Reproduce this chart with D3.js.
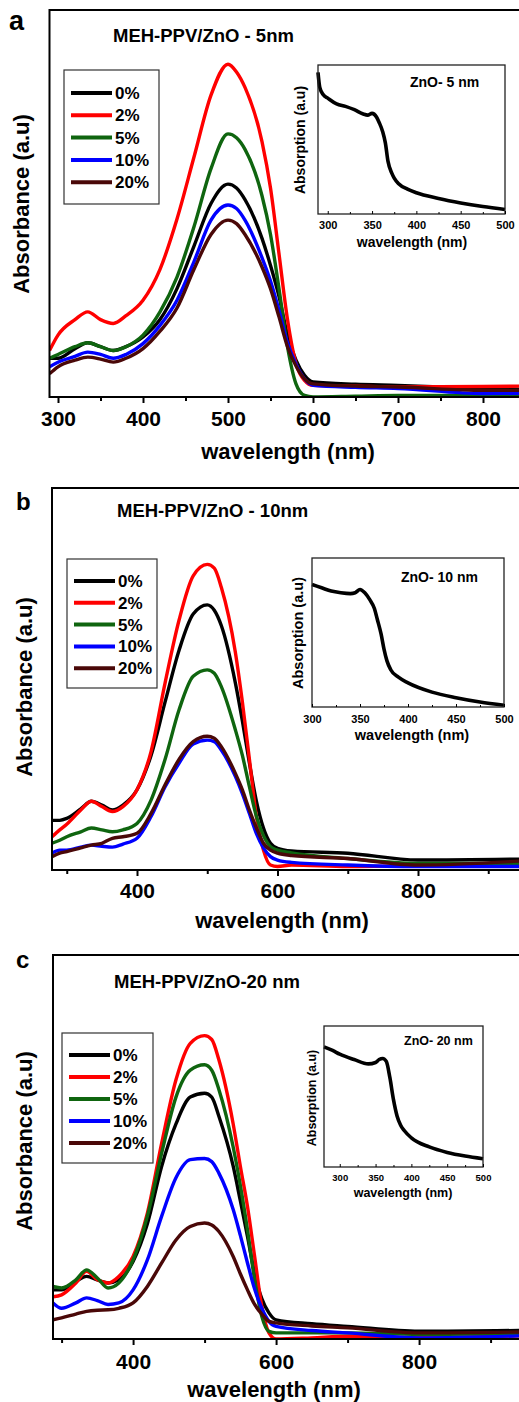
<!DOCTYPE html>
<html>
<head>
<meta charset="utf-8">
<script src="https://cdn.jsdelivr.net/npm/d3@7"></script>
<style>
  body { margin: 0; background: #fff; }
  svg text { font-family: "Liberation Sans", Arial, Helvetica, sans-serif; font-weight: bold; fill: #000; }
</style>
</head>
<body>
<svg id="fig" width="519" height="1402"></svg>
<script>
// ---- data (absorbance in arbitrary units 0..1) ----
const seriesNames = ["0%", "2%", "5%", "10%", "20%"];
const seriesColors = ["#000000", "#ff0000", "#0f650f", "#0000ff", "#4a0808"];

// panel a: MEH-PPV/ZnO - 5nm
const wlA = [290, 300, 320, 335, 350, 365, 380, 400, 420, 440, 460, 480, 500, 510, 520, 540, 550, 560, 570, 580, 590, 600, 650, 700, 800, 900];
const a0 = [0.10, 0.10, 0.125, 0.14, 0.13, 0.12, 0.13, 0.155, 0.20, 0.28, 0.39, 0.50, 0.55, 0.54, 0.51, 0.41, 0.34, 0.26, 0.16, 0.095, 0.056, 0.039, 0.033, 0.030, 0.022, 0.017];
const a2 = [0.12, 0.16, 0.20, 0.22, 0.20, 0.19, 0.21, 0.25, 0.33, 0.46, 0.62, 0.78, 0.86, 0.84, 0.80, 0.66, 0.54, 0.37, 0.20, 0.086, 0.043, 0.030, 0.028, 0.026, 0.027, 0.030];
const a5 = [0.10, 0.11, 0.13, 0.14, 0.13, 0.12, 0.13, 0.16, 0.22, 0.31, 0.44, 0.59, 0.68, 0.67, 0.64, 0.52, 0.42, 0.28, 0.13, 0.034, 0.004, 0.0, 0.002, 0.004, 0.004, 0.005];
const a10 = [0.078, 0.09, 0.105, 0.116, 0.11, 0.10, 0.11, 0.138, 0.185, 0.25, 0.35, 0.457, 0.496, 0.487, 0.457, 0.36, 0.30, 0.224, 0.14, 0.085, 0.047, 0.030, 0.025, 0.022, 0.009, 0.010];
const a20 = [0.06, 0.078, 0.095, 0.103, 0.098, 0.09, 0.10, 0.125, 0.17, 0.23, 0.33, 0.42, 0.457, 0.448, 0.42, 0.336, 0.28, 0.207, 0.13, 0.08, 0.047, 0.034, 0.028, 0.026, 0.017, 0.018];

// panel b: MEH-PPV/ZnO - 10nm
const wlB = [279, 290, 300, 320, 335, 350, 365, 380, 400, 420, 440, 460, 480, 500, 510, 520, 540, 550, 560, 570, 580, 590, 600, 620, 700, 800, 1000];
const b0 = [0.13, 0.13, 0.135, 0.16, 0.18, 0.17, 0.157, 0.17, 0.21, 0.30, 0.44, 0.576, 0.67, 0.694, 0.68, 0.64, 0.49, 0.39, 0.28, 0.18, 0.11, 0.07, 0.057, 0.05, 0.044, 0.026, 0.03];
const b2 = [0.087, 0.105, 0.12, 0.157, 0.18, 0.166, 0.153, 0.166, 0.21, 0.31, 0.49, 0.655, 0.77, 0.80, 0.79, 0.74, 0.57, 0.44, 0.29, 0.14, 0.052, 0.013, 0.009, 0.013, 0.009, 0.012, 0.02];
const b5 = [0.07, 0.078, 0.087, 0.10, 0.11, 0.105, 0.10, 0.105, 0.122, 0.183, 0.29, 0.42, 0.507, 0.524, 0.515, 0.48, 0.367, 0.30, 0.218, 0.14, 0.09, 0.061, 0.052, 0.045, 0.03, 0.017, 0.017];
const b10 = [0.044, 0.052, 0.052, 0.06, 0.065, 0.062, 0.06, 0.068, 0.083, 0.14, 0.218, 0.28, 0.33, 0.34, 0.336, 0.314, 0.245, 0.20, 0.148, 0.095, 0.058, 0.035, 0.026, 0.02, 0.013, 0.009, 0.009];
const b20 = [0.035, 0.044, 0.048, 0.058, 0.065, 0.07, 0.083, 0.087, 0.096, 0.148, 0.223, 0.29, 0.336, 0.35, 0.345, 0.323, 0.253, 0.21, 0.157, 0.11, 0.07, 0.052, 0.044, 0.038, 0.03, 0.013, 0.03];

// panel c: MEH-PPV/ZnO-20 nm
const wlC = [288, 300, 320, 335, 350, 365, 380, 400, 420, 440, 460, 480, 500, 510, 520, 540, 550, 560, 570, 580, 590, 600, 650, 700, 800, 1000];
const c0 = [0.128, 0.128, 0.15, 0.163, 0.154, 0.146, 0.154, 0.202, 0.30, 0.45, 0.56, 0.63, 0.64, 0.63, 0.58, 0.45, 0.36, 0.267, 0.17, 0.105, 0.068, 0.05, 0.04, 0.033, 0.02, 0.024];
const c2 = [0.11, 0.115, 0.146, 0.176, 0.154, 0.146, 0.163, 0.215, 0.328, 0.51, 0.675, 0.77, 0.79, 0.78, 0.727, 0.56, 0.45, 0.345, 0.215, 0.085, 0.016, 0.0, 0.003, 0.007, 0.004, 0.011];
const c5 = [0.137, 0.133, 0.154, 0.18, 0.159, 0.133, 0.146, 0.206, 0.32, 0.484, 0.63, 0.70, 0.714, 0.70, 0.65, 0.50, 0.40, 0.284, 0.154, 0.059, 0.02, 0.016, 0.016, 0.016, 0.012, 0.016];
const c10 = [0.094, 0.08, 0.094, 0.107, 0.10, 0.09, 0.094, 0.128, 0.206, 0.32, 0.42, 0.467, 0.47, 0.462, 0.432, 0.337, 0.27, 0.198, 0.13, 0.08, 0.046, 0.033, 0.022, 0.016, 0.003, 0.012];
const c20 = [0.05, 0.055, 0.065, 0.072, 0.075, 0.076, 0.08, 0.094, 0.137, 0.198, 0.258, 0.293, 0.302, 0.297, 0.28, 0.215, 0.17, 0.128, 0.09, 0.065, 0.046, 0.042, 0.034, 0.029, 0.016, 0.02];

// insets: ZnO absorption
const insetWlA = [289, 291, 295, 300, 310, 320, 330, 340, 345, 350, 355, 358, 362, 365, 368, 372, 375, 380, 390, 400, 425, 450, 475, 500];
const insetA = [0.855, 0.765, 0.72, 0.70, 0.665, 0.65, 0.63, 0.604, 0.597, 0.608, 0.586, 0.553, 0.497, 0.43, 0.318, 0.25, 0.217, 0.183, 0.15, 0.128, 0.094, 0.067, 0.045, 0.027];
const insetWlB = [300, 310, 320, 330, 340, 345, 350, 355, 360, 365, 368, 372, 375, 378, 382, 390, 400, 425, 450, 475, 500];
const insetB = [0.74, 0.72, 0.70, 0.69, 0.685, 0.69, 0.71, 0.69, 0.65, 0.595, 0.53, 0.44, 0.35, 0.28, 0.225, 0.18, 0.146, 0.09, 0.056, 0.03, 0.011];
const insetWlC = [278, 290, 300, 320, 340, 350, 355, 360, 365, 370, 375, 380, 385, 390, 400, 425, 450, 475, 500];
const insetC = [0.767, 0.744, 0.72, 0.686, 0.658, 0.667, 0.686, 0.693, 0.674, 0.57, 0.43, 0.326, 0.267, 0.233, 0.186, 0.128, 0.093, 0.07, 0.053];

const svg = d3.select("#fig");

function drawPanel(p) {
    const g = svg.append("g");
    const x = d3.scaleLinear()
        .domain(p.xDomain)
        .range([p.left, p.left + (p.xDomain[1] - p.xDomain[0]) * p.pxPerNm]);
    const y = d3.scaleLinear().domain([0, 1]).range([p.bottom, p.top]);

    const clipId = "clip-" + p.id;
    g.append("clipPath").attr("id", clipId)
        .append("rect")
        .attr("x", x.range()[0]).attr("y", p.top)
        .attr("width", x.range()[1] - x.range()[0]).attr("height", p.bottom - p.top);

    const line = d3.line()
        .x((d, i) => x(p.wl[i]))
        .y(d => y(d))
        .curve(d3.curveMonotoneX);

    g.append("g").attr("clip-path", `url(#${clipId})`)
        .selectAll("path")
        .data(p.series)
        .join("path")
        .attr("d", line)
        .attr("fill", "none")
        .attr("stroke", (d, i) => seriesColors[i])
        .attr("stroke-width", 3.4)
        .attr("stroke-linejoin", "round");

    // frame
    g.append("rect")
        .attr("x", x.range()[0]).attr("y", p.top)
        .attr("width", x.range()[1] - x.range()[0]).attr("height", p.bottom - p.top)
        .attr("fill", "none").attr("stroke", "#000").attr("stroke-width", 2);

    // bottom axis: minor ticks, then labelled major ticks
    const minorAxis = d3.axisBottom(x).tickValues(p.minorTicks).tickSize(4).tickFormat("");
    const majorAxis = d3.axisBottom(x).tickValues(p.majorTicks).tickSize(6)
        .tickPadding(p.tickPad).tickFormat(d3.format("d"));
    [minorAxis, majorAxis].forEach(ax => {
        const a = g.append("g").attr("transform", `translate(0,${p.bottom})`).call(ax);
        a.select(".domain").remove();
        a.selectAll(".tick line").attr("stroke", "#000").attr("stroke-width", 2);
        a.selectAll(".tick text").style("font-size", "21px").attr("font-family", null);
    });

    g.append("text")
        .attr("x", p.xLabelX).attr("y", p.xLabelY)
        .attr("text-anchor", "middle").style("font-size", "22px")
        .text("wavelength (nm)");
    g.append("text")
        .attr("transform", `translate(${p.yLabelX},${p.yLabelY}) rotate(-90)`)
        .attr("text-anchor", "middle").style("font-size", "22px")
        .text("Absorbance (a.u)");

    g.append("text").attr("x", p.letterX).attr("y", p.letterY)
        .style("font-size", p.letterSize + "px").text(p.letter);
    g.append("text").attr("x", p.titleX).attr("y", p.titleY)
        .style("font-size", "18.5px").text(p.title);

    // legend
    const lg = g.append("g");
    lg.append("rect")
        .attr("x", p.legend.x).attr("y", p.legend.y)
        .attr("width", p.legend.w).attr("height", p.legend.h)
        .attr("fill", "#fff").attr("stroke", "#333").attr("stroke-width", 1.2);
    seriesNames.forEach((name, i) => {
        const yy = p.legend.y + p.legend.first + i * p.legend.step;
        lg.append("line")
            .attr("x1", p.legend.x + 7).attr("x2", p.legend.x + 48)
            .attr("y1", yy).attr("y2", yy)
            .attr("stroke", seriesColors[i]).attr("stroke-width", 4);
        lg.append("text")
            .attr("x", p.legend.x + 51).attr("y", yy + 6)
            .style("font-size", "17px").text(name);
    });

    drawInset(g, p.inset);
}

function drawInset(g, q) {
    const x = d3.scaleLinear().domain(q.xDomain).range([q.x0, q.x1]);
    const y = d3.scaleLinear().domain([0, 0.9]).range([q.y1, q.y0]);
    const ig = g.append("g");

    ig.append("path")
        .datum(q.values)
        .attr("d", d3.line().x((d, i) => x(q.wl[i])).y(d => y(d)).curve(d3.curveMonotoneX))
        .attr("fill", "none").attr("stroke", "#000")
        .attr("stroke-width", 3.6).attr("stroke-linejoin", "round");

    ig.append("rect")
        .attr("x", q.x0).attr("y", q.y0)
        .attr("width", q.x1 - q.x0).attr("height", q.y1 - q.y0)
        .attr("fill", "none").attr("stroke", "#222").attr("stroke-width", 1.3);

    const minor = d3.axisBottom(x).tickValues([325, 375, 425, 475]).tickSize(-2).tickFormat("");
    const major = d3.axisBottom(x).tickValues([300, 350, 400, 450, 500])
        .tickSizeInner(-3).tickSizeOuter(0).tickPadding(q.tickPad).tickFormat(d3.format("d"));
    [minor, major].forEach(ax => {
        const a = ig.append("g").attr("transform", `translate(0,${q.y1})`).call(ax);
        a.select(".domain").remove();
        a.selectAll(".tick line").attr("stroke", "#000").attr("stroke-width", 1);
        a.selectAll(".tick text").style("font-size", q.tickFont + "px").attr("font-family", null);
    });

    ig.append("text")
        .attr("x", q.xLabelX).attr("y", q.xLabelY).attr("text-anchor", "middle")
        .style("font-size", q.labelFont + "px").text("wavelength (nm)");
    ig.append("text")
        .attr("transform", `translate(${q.yLabelX},${q.yLabelY}) rotate(-90)`)
        .attr("text-anchor", "middle")
        .style("font-size", q.labelFont + "px").text("Absorption (a.u)");
    ig.append("text")
        .attr("x", q.titleX).attr("y", q.titleY)
        .style("font-size", q.titleFont + "px").text(q.title);
}

drawPanel({
    id: "a", letter: "a", letterX: 9, letterY: 30, letterSize: 27,
    title: "MEH-PPV/ZnO - 5nm", titleX: 113, titleY: 42,
    wl: wlA, series: [a0, a2, a5, a10, a20],
    xDomain: [290, 900], pxPerNm: 0.85, left: 49.5, top: 10, bottom: 397,
    majorTicks: [300, 400, 500, 600, 700, 800],
    minorTicks: [350, 450, 550, 650, 750, 850],
    tickPad: 8, xLabelX: 288, xLabelY: 459, yLabelX: 29, yLabelY: 204,
    legend: { x: 64, y: 70, w: 95, h: 134, first: 23, step: 22.3 },
    inset: {
        wl: insetWlA, values: insetA, xDomain: [289, 500],
        x0: 318, x1: 505, y0: 65, y1: 214, tickPad: 7, tickFont: 11,
        labelFont: 14, xLabelX: 412, xLabelY: 247, yLabelX: 305, yLabelY: 140,
        title: "ZnO- 5 nm", titleX: 410, titleY: 87, titleFont: 14
    }
});

drawPanel({
    id: "b", letter: "b", letterX: 16, letterY: 510, letterSize: 24,
    title: "MEH-PPV/ZnO - 10nm", titleX: 117, titleY: 517,
    wl: wlB, series: [b0, b2, b5, b10, b20],
    xDomain: [279, 1000], pxPerNm: 0.7025, left: 52, top: 488, bottom: 870,
    majorTicks: [400, 600, 800],
    minorTicks: [300, 500, 700, 900],
    tickPad: 7, xLabelX: 282, xLabelY: 928, yLabelX: 32, yLabelY: 687,
    legend: { x: 67, y: 559, w: 90, h: 129, first: 22, step: 21.8 },
    inset: {
        wl: insetWlB, values: insetB, xDomain: [300, 500],
        x0: 312, x1: 504, y0: 558, y1: 707, tickPad: 8, tickFont: 11,
        labelFont: 14.5, xLabelX: 412, xLabelY: 740, yLabelX: 303, yLabelY: 633,
        title: "ZnO- 10 nm", titleX: 401, titleY: 582, titleFont: 14
    }
});

drawPanel({
    id: "c", letter: "c", letterX: 16, letterY: 968, letterSize: 24,
    title: "MEH-PPV/ZnO-20 nm", titleX: 114, titleY: 988,
    wl: wlC, series: [c0, c2, c5, c10, c20],
    xDomain: [288, 1000], pxPerNm: 0.715, left: 53, top: 955, bottom: 1339,
    majorTicks: [400, 600, 800],
    minorTicks: [300, 500, 700, 900],
    tickPad: 9, xLabelX: 274, xLabelY: 1397, yLabelX: 32, yLabelY: 1141,
    legend: { x: 62, y: 1033, w: 91, h: 130, first: 22, step: 22 },
    inset: {
        wl: insetWlC, values: insetC, xDomain: [278, 500],
        x0: 324, x1: 483, y0: 1026, y1: 1167, tickPad: 7, tickFont: 9.5,
        labelFont: 12.5, xLabelX: 403, xLabelY: 1197, yLabelX: 316, yLabelY: 1098,
        title: "ZnO- 20 nm", titleX: 404, titleY: 1045, titleFont: 12.5
    }
});
</script>
</body>
</html>
